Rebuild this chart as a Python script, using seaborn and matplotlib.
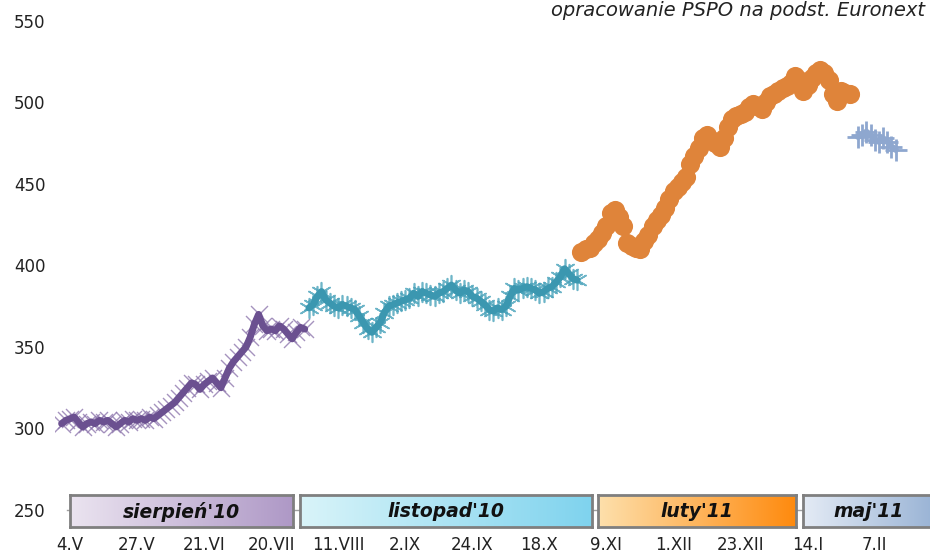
import numpy as np
import pandas as pd
import matplotlib
matplotlib.use("Agg")
import matplotlib.pyplot as plt
import seaborn as sns
from matplotlib.colors import LinearSegmentedColormap

# notowania rzepaku na Euronext - kolejne kontrakty (wartosci)
sierpien_10 = [303, 305, 306, 307, 304, 301, 303, 304, 303, 305, 304, 305, 303, 301, 303,
               305, 304, 306, 305, 306, 305, 307, 306, 308, 310, 312, 314, 316, 319, 322,
               325, 328, 327, 324, 327, 329, 331, 328, 325, 331, 337, 341, 344, 347, 350,
               356, 364, 370, 363, 360, 361, 360, 363, 361, 358, 355, 359, 362, 361]
listopad_10 = [374, 376, 381, 384, 379, 377, 375, 374, 376, 375, 374, 373, 369, 365, 361,
               359, 362, 365, 371, 375, 376, 377, 378, 379, 380, 383, 381, 384, 383, 382,
               381, 383, 384, 386, 388, 385, 383, 385, 384, 381, 380, 378, 376, 373, 372,
               374, 373, 375, 381, 386, 385, 386, 387, 386, 385, 383, 384, 386, 387, 390,
               393, 398, 395, 392, 391]
luty_11 = [408, 410, 411, 414, 416, 420, 424, 432, 434, 430, 424, 414, 412, 411, 410,
           415, 419, 424, 428, 431, 435, 441, 446, 448, 451, 454, 462, 467, 472, 478,
           480, 477, 475, 473, 478, 485, 490, 492, 493, 494, 497, 499, 498, 496, 500,
           504, 505, 507, 509, 510, 512, 516, 514, 507, 511, 515, 518, 520, 518, 514,
           505, 501, 507, 506, 505]
maj_11 = [479, 480, 482, 480, 477, 476, 478, 476, 473, 471]

# pierwszy dzien sesji kazdego kontraktu (numer kolejnej sesji)
start_day = [0, 59, 124, 190]
contracts = ["sierpień'10", "listopad'10", "luty'11", "maj'11"]

tick_days = [2, 18, 34, 50, 66, 82, 98, 114, 130, 146, 162, 178, 194]
tick_labels = ["4.V", "27.V", "21.VI", "20.VII", "11.VIII", "2.IX", "24.IX", "18.X",
               "9.XI", "1.XII", "23.XII", "14.I", "7.II"]

series = [sierpien_10, listopad_10, luty_11, maj_11]
frames = []
for name, s0, vals in zip(contracts, start_day, series):
    frames.append(pd.DataFrame({"dzien": np.arange(s0, s0 + len(vals)),
                                "cena": vals, "kontrakt": name}))
df = pd.concat(frames, ignore_index=True)

sns.set_style("white")
plt.rcParams['font.family'] = ['DejaVu Sans']

fig = plt.figure(figsize=(9.3, 5.53), dpi=100)
W, H = 930, 553
ax = fig.add_axes([55 / W, 43 / H, 870 / W, 489 / H])

styles = {
    "sierpień'10": dict(line="#6b5090", mk="x", mkc="#8f78ae", s=150, lw=5.0, mlw=1.0, a=0.8),
    "listopad'10": dict(line="#3b97b0", mk=(6, 2, 0), mkc="#4aa3bb", s=200, lw=5.0, mlw=1.2, a=0.8),
    "luty'11": dict(line="#df843a", mk="o", mkc="#df843a", s=190, lw=4.0, mlw=0, a=1),
    "maj'11": dict(line="#8ea7cf", mk="+", mkc="#8ea7cf", s=260, lw=4.5, mlw=2.0, a=1),
}

for name in contracts:
    st = styles[name]
    sub = df[df["kontrakt"] == name]
    if st["mk"] == "o":
        sns.lineplot(data=sub, x="dzien", y="cena", color=st["line"], lw=st["lw"], ax=ax)
        sns.scatterplot(data=sub, x="dzien", y="cena", marker="o", color=st["mkc"],
                        s=st["s"], linewidth=0, ax=ax, zorder=3)
    else:
        sns.scatterplot(data=sub, x="dzien", y="cena", marker=st["mk"], color=st["mkc"],
                        s=st["s"], linewidth=st["mlw"], alpha=st["a"], ax=ax)
        sns.lineplot(data=sub, x="dzien", y="cena", color=st["line"], lw=st["lw"], ax=ax,
                     zorder=3)

ax.set_xlim(-1.58, 206)
ax.set_ylim(250, 550)
ax.set_yticks([250, 300, 350, 400, 450, 500, 550])
ax.set_xticks(tick_days)
ax.set_xticklabels(tick_labels)
ax.set_xlabel("")
ax.set_ylabel("")
ax.tick_params(axis="y", length=0, pad=7, labelsize=12, labelcolor="#222222")
ax.tick_params(axis="x", length=0, pad=19, labelsize=12, labelcolor="#222222")
for side in ["top", "right", "left"]:
    ax.spines[side].set_visible(False)
ax.spines["bottom"].set_color("#a0a0a0")
ax.spines["bottom"].set_linewidth(1)
ax.spines["bottom"].set_bounds(1.2, 206)

fig.text(925 / W, 1 - 11 / H, "opracowanie PSPO na podst. Euronext", ha="right", va="center",
         fontsize=14, style="italic", color="#222222")

# paski z nazwami kontraktow
boxes = [
    (70, 293, "#ebe4f0", "#ae98c6"),
    (300, 592, "#d9f4f9", "#7fd3ee"),
    (598, 796, "#fde0ac", "#ff8a0e"),
    (803, 935, "#e4ebf5", "#99b3d5"),
]
for name, (x0, x1, c0, c1) in zip(contracts, boxes):
    bax = fig.add_axes([x0 / W, (H - 527) / H, (x1 - x0) / W, 32 / H])
    cmap = LinearSegmentedColormap.from_list("g", [c0, c1])
    bax.imshow(np.linspace(0, 1, 256).reshape(1, -1), aspect="auto", cmap=cmap,
               extent=[0, 1, 0, 1])
    bax.set_xticks([])
    bax.set_yticks([])
    for sp in bax.spines.values():
        sp.set_visible(True)
        sp.set_color("#7f7f7f")
        sp.set_linewidth(2)
    bax.text(0.5, 0.48, name, ha="center", va="center", fontsize=13.5, fontweight="bold",
             style="italic", color="#111111", transform=bax.transAxes)

fig.savefig("out.png", dpi=100)
